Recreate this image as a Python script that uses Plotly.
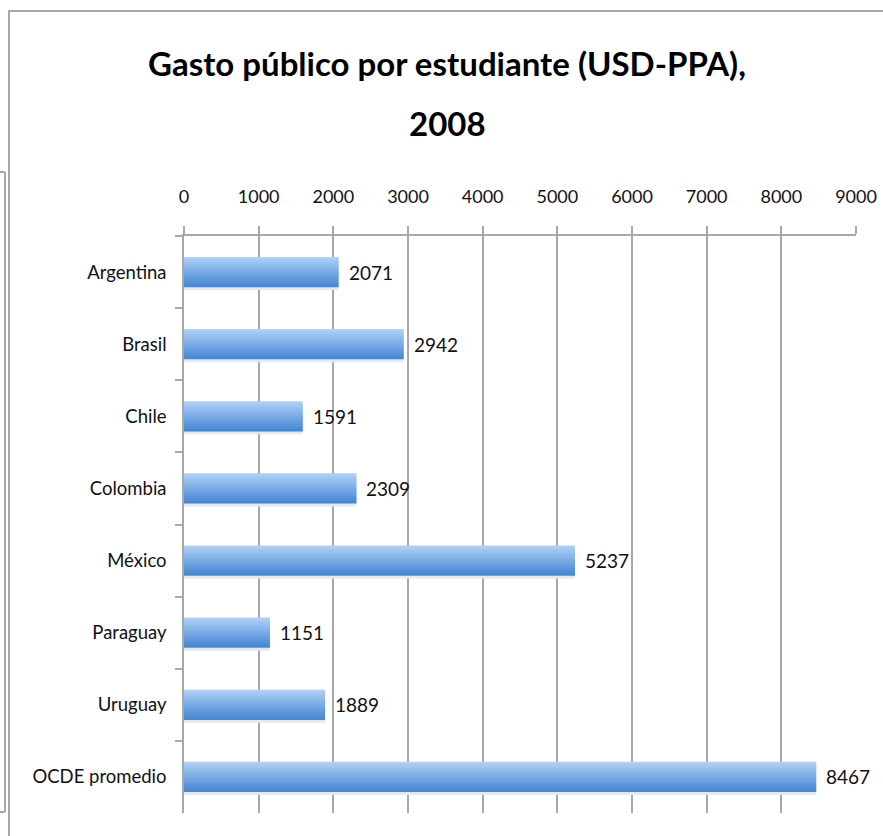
import plotly.graph_objects as go

categories = ["Argentina", "Brasil", "Chile", "Colombia", "México", "Paraguay", "Uruguay", "OCDE promedio"]
values = [2071, 2942, 1591, 2309, 5237, 1151, 1889, 8467]
tick_vals = [0, 1000, 2000, 3000, 4000, 5000, 6000, 7000, 8000, 9000]
title_lines = ["Gasto público por estudiante (USD-PPA),", "2008"]

W, H = 883, 836
L, R, T, B = 184, 856, 236, 813
FONT = "Lato, Roboto, sans-serif"

fig = go.Figure()

n = 12
bar_w = 0.42

# soft shadow just below each bar
fig.add_trace(go.Bar(
    y=categories, x=values, orientation="h",
    width=0.05, offset=bar_w / 2 - 0.01,
    marker=dict(color="rgb(232,232,232)", line=dict(width=0)),
    showlegend=False, hoverinfo="skip",
))

# gradient bars: stacked stripes across the bar thickness
top_c = (172, 207, 247)
bot_c = (70, 136, 212)
for k in range(n):
    t = k / (n - 1)
    c = tuple(int(top_c[i] + (bot_c[i] - top_c[i]) * t) for i in range(3))
    w = bar_w / n + (0.02 if k < n - 1 else 0)
    fig.add_trace(go.Bar(
        y=categories, x=values, orientation="h",
        width=w, offset=-bar_w / 2 + k * bar_w / n,
        marker=dict(color="rgb(%d,%d,%d)" % c, line=dict(width=0)),
        showlegend=False, hoverinfo="skip" if k else "x+y",
    ))

def px(x):
    return (x - L) / (R - L)

def py(y):
    return (B - y) / (B - T)

annotations = []
for cat, v in zip(categories, values):
    annotations.append(dict(
        x=v, y=cat, xref="x", yref="y", text=str(v), showarrow=False,
        xanchor="left", yanchor="middle", xshift=8,
        font=dict(family=FONT, size=19, color="#111"),
    ))
for i, (line, ypos) in enumerate(zip(title_lines, [63, 123])):
    annotations.append(dict(
        x=px(447), y=py(ypos), xref="paper", yref="paper", text="<b>%s</b>" % line,
        showarrow=False, xanchor="center", yanchor="middle",
        font=dict(family=FONT, size=33, color="black"),
    ))

line_c = "#a8a8a8"
shapes = [
    dict(type="line", xref="paper", yref="paper", x0=px(8), x1=px(883), y0=py(11), y1=py(11), line=dict(color=line_c, width=2)),
    dict(type="line", xref="paper", yref="paper", x0=px(9), x1=px(9), y0=py(10), y1=py(836), line=dict(color=line_c, width=2)),
    dict(type="line", xref="paper", yref="paper", x0=px(5), x1=px(5), y0=py(172), y1=py(812), line=dict(color=line_c, width=2)),
    dict(type="line", xref="paper", yref="paper", x0=px(0), x1=px(5), y0=py(172), y1=py(172), line=dict(color=line_c, width=2)),
    dict(type="line", xref="paper", yref="paper", x0=px(0), x1=px(5), y0=py(812), y1=py(812), line=dict(color=line_c, width=2)),
]

fig.update_layout(
    width=W, height=H,
    margin=dict(l=L, r=W - R, t=T, b=H - B, autoexpand=False),
    paper_bgcolor="white", plot_bgcolor="white",
    barmode="overlay",
    shapes=shapes, annotations=annotations,
    xaxis=dict(
        side="top", range=[0, 9000], tickvals=tick_vals, automargin=False,
        showgrid=True, gridcolor=line_c, gridwidth=1.5,
        showline=True, linecolor=line_c, linewidth=1.5,
        ticks="outside", ticklen=8, tickcolor=line_c, tickwidth=1.5,
        tickfont=dict(family=FONT, size=18, color="#111"),
        ticklabelstandoff=16, zeroline=False,
    ),
    yaxis=dict(
        autorange="reversed", showgrid=False, automargin=False,
        showline=True, linecolor=line_c, linewidth=1.5,
        ticks="outside", ticklen=7, tickcolor=line_c, tickwidth=1.5, tickson="boundaries",
        tickfont=dict(family=FONT, size=18.5, color="#111"),
        ticklabelstandoff=12,
    ),
)

fig.write_html(
    "out.html",
    config={"displayModeBar": False},
    post_script="document.body.style.margin='0';document.body.style.overflow='hidden';",
)
